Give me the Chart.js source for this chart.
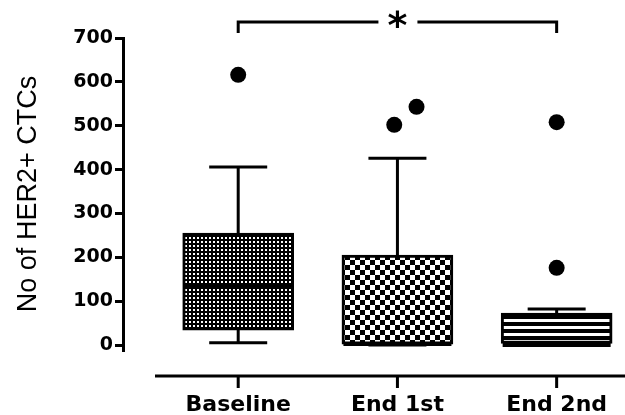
<!DOCTYPE html>
<html>
<head>
<meta charset="utf-8">
<script src="https://cdn.jsdelivr.net/npm/chart.js@4"></script>
<style>
  html, body { margin: 0; padding: 0; background: #fff; }
  #wrap { width: 625px; height: 415px; }
</style>
</head>
<body>
<div id="wrap"><canvas id="myChart" width="625" height="415"></canvas></div>
<script>
const categories = ["Baseline", "End 1st", "End 2nd"];
const whiskerMin = [5, 0, 0];
const q1 = [34, 2, 0];
const median = [137, 2, 0];
const q3 = [255, 205, 73];
const whiskerMax = [406, 426, 82];
const outlierX = [0, 0.98, 1.12, 2, 2];
const outlierY = [616, 502, 543, 176, 508];
const yTicks = [0, 100, 200, 300, 400, 500, 600, 700];

function makePattern(w, h, draw) {
  const c = document.createElement("canvas");
  c.width = w;
  c.height = h;
  const g = c.getContext("2d");
  draw(g);
  return document.getElementById("myChart").getContext("2d").createPattern(c, "repeat");
}

// fine dots, coarse checkers, horizontal stripes
const dots = makePattern(4, 4, (g) => {
  g.fillStyle = "#000";
  g.fillRect(0, 0, 4, 4);
  g.fillStyle = "#fff";
  g.fillRect(1, 1, 2, 2);
});
const checks = makePattern(10, 10, (g) => {
  g.fillStyle = "#fff";
  g.fillRect(0, 0, 10, 10);
  g.fillStyle = "#000";
  g.fillRect(0, 0, 5, 5);
  g.fillRect(5, 5, 5, 5);
});
const stripes = makePattern(4, 7, (g) => {
  g.fillStyle = "#000";
  g.fillRect(0, 0, 4, 7);
  g.fillStyle = "#fff";
  g.fillRect(0, 4, 4, 3);
});

const boxExtras = {
  id: "boxExtras",
  beforeDatasetsDraw(chart) {
    const { ctx, scales } = chart;
    const x = scales.x, y = scales.y;
    ctx.save();
    ctx.strokeStyle = "#000";
    ctx.lineWidth = 3;
    ctx.lineCap = "butt";
    categories.forEach((c, i) => {
      const px = x.getPixelForValue(i);
      ctx.beginPath();
      ctx.moveTo(px, y.getPixelForValue(q3[i]));
      ctx.lineTo(px, y.getPixelForValue(whiskerMax[i]));
      ctx.moveTo(px - 29, y.getPixelForValue(whiskerMax[i]));
      ctx.lineTo(px + 29, y.getPixelForValue(whiskerMax[i]));
      ctx.moveTo(px, y.getPixelForValue(q1[i]));
      ctx.lineTo(px, y.getPixelForValue(whiskerMin[i]));
      ctx.moveTo(px - 29, y.getPixelForValue(whiskerMin[i]));
      ctx.lineTo(px + 29, y.getPixelForValue(whiskerMin[i]));
      ctx.stroke();
    });
    ctx.restore();
  },
  afterDatasetsDraw(chart) {
    const { ctx, scales, chartArea } = chart;
    const x = scales.x, y = scales.y;
    ctx.save();
    ctx.strokeStyle = "#000";
    // medians
    ctx.lineWidth = 4;
    categories.forEach((c, i) => {
      const px = x.getPixelForValue(i);
      const py = y.getPixelForValue(median[i]);
      ctx.beginPath();
      ctx.moveTo(px - 54, py);
      ctx.lineTo(px + 54, py);
      ctx.stroke();
    });
    // x axis line, offset below the plot
    ctx.lineWidth = 3;
    const ay = chartArea.bottom + 26;
    ctx.beginPath();
    ctx.moveTo(155, ay);
    ctx.lineTo(chart.width, ay);
    categories.forEach((c, i) => {
      const px = x.getPixelForValue(i);
      ctx.moveTo(px, ay);
      ctx.lineTo(px, ay + 12);
    });
    ctx.stroke();
    // significance bracket
    const x0 = x.getPixelForValue(0), x2 = x.getPixelForValue(2);
    const mid = (x0 + x2) / 2;
    const by = chartArea.top - 16;
    ctx.lineWidth = 3;
    ctx.beginPath();
    ctx.moveTo(x0, by + 11);
    ctx.lineTo(x0, by);
    ctx.lineTo(mid - 19, by);
    ctx.moveTo(mid + 20, by);
    ctx.lineTo(x2, by);
    ctx.lineTo(x2, by + 11);
    ctx.stroke();
    ctx.fillStyle = "#000";
    ctx.font = "bold 38px 'DejaVu Sans'";
    ctx.textAlign = "center";
    ctx.textBaseline = "alphabetic";
    ctx.fillText("*", mid, by + 16);
    ctx.restore();
  },
};

const ctx = document.getElementById("myChart");
new Chart(ctx, {
  type: "bar",
  data: {
    datasets: [
      {
        label: "box",
        data: categories.map((c, i) => ({ x: i, y: [q1[i], q3[i]] })),
        backgroundColor: [dots, checks, stripes],
        borderColor: "#000",
        borderWidth: 3,
        borderSkipped: false,
        barThickness: 111,
      },
      {
        type: "scatter",
        label: "outliers",
        data: outlierX.map((v, i) => ({ x: v, y: outlierY[i] })),
        backgroundColor: "#000",
        borderWidth: 0,
        pointRadius: 8,
      },
    ],
  },
  options: {
    responsive: false,
    animation: false,
    layout: { padding: { top: 38, right: 0, left: 0, bottom: 0 } },
    plugins: { legend: { display: false }, tooltip: { enabled: false } },
    scales: {
      x: {
        type: "linear",
        offset: false,
        min: -0.7235,
        max: 2.379,
        grid: { display: false, drawTicks: false },
        border: { display: false },
        afterBuildTicks: (s) => { s.ticks = categories.map((c, i) => ({ value: i })); },
        afterFit: (s) => { s.height = 65; s.paddingLeft = 0; s.paddingRight = 0; },
        ticks: {
          callback: (v) => categories[v],
          color: "#000",
          padding: 42,
          maxRotation: 0,
          font: { family: "'DejaVu Sans'", weight: "bold", size: 22 },
        },
      },
      y: {
        min: -11.4,
        max: 700,
        afterBuildTicks: (s) => { s.ticks = yTicks.map((v) => ({ value: v })); },
        afterFit: (s) => { s.width = 123; },
        grid: { drawOnChartArea: false, tickLength: 8, lineWidth: 3, color: "#000" },
        border: { display: true, width: 3, color: "#000" },
        ticks: {
          color: "#000",
          padding: 2,
          font: { family: "'DejaVu Sans'", weight: "bold", size: 19 },
        },
        title: {
          display: true,
          text: "No of HER2+ CTCs",
          color: "#000",
          padding: { top: 12, bottom: 0 },
          font: { family: "'Liberation Sans'", size: 27 },
        },
      },
    },
  },
  plugins: [boxExtras],
});
</script>
</body>
</html>
